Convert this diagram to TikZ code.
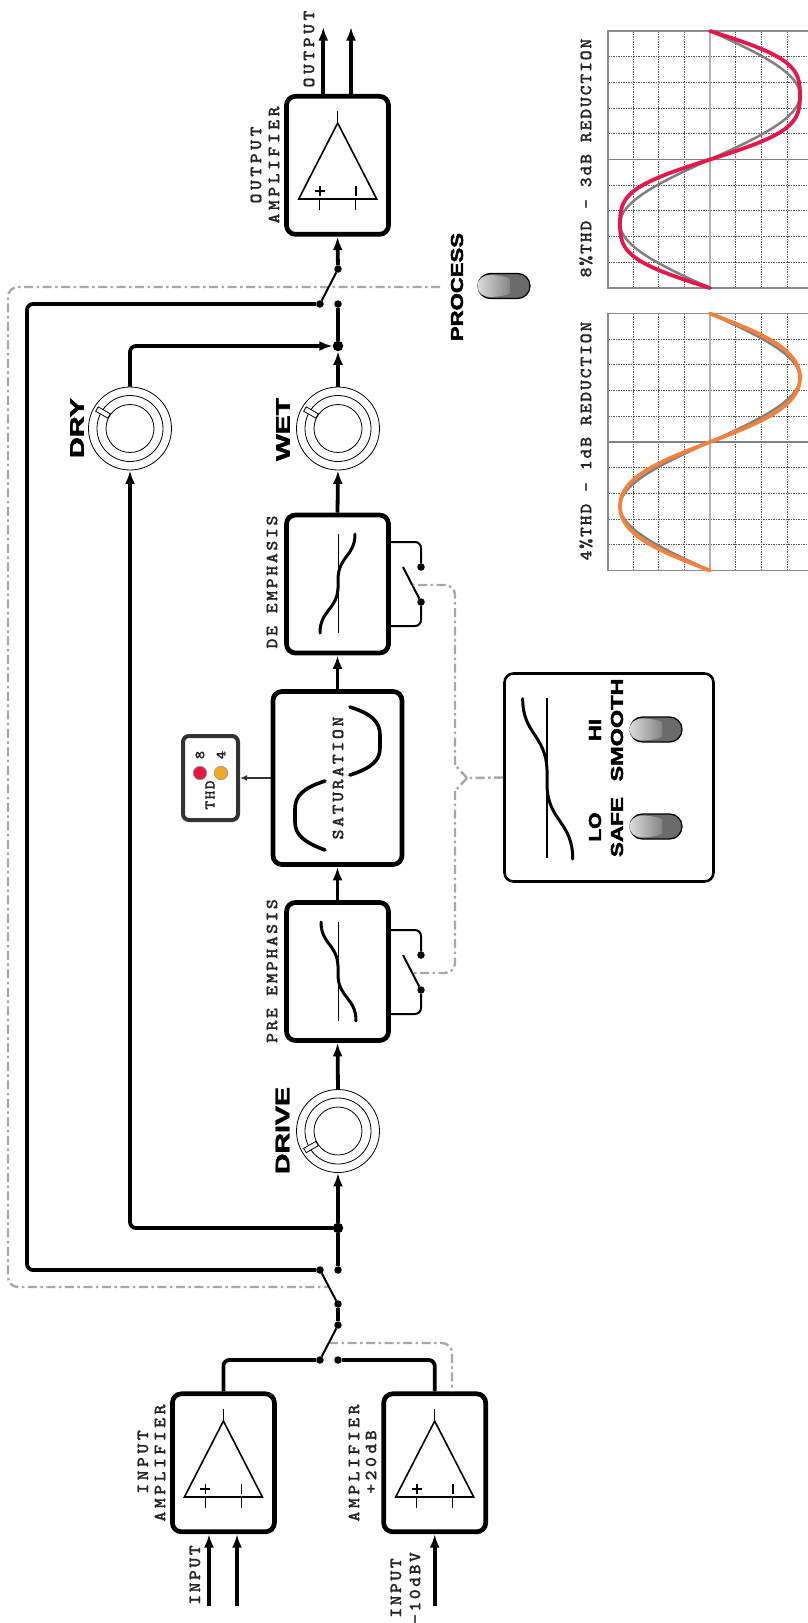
\documentclass[tikz,border=0pt]{standalone}
\usepackage{fontspec}
\usepackage{graphicx}
\usetikzlibrary{arrows.meta,calc}
\newfontfamily\widef{Liberation Sans}[BoldFeatures={FakeBold=2.2}]
\newfontfamily\labf{lmmonolt10-bold.otf}[FakeStretch=1.12,FakeBold=0.9]
\newcommand\lbl[3]{{\fontsize{#1}{#1}\labf\addfontfeature{LetterSpace=#2}#3}}
\newcommand\wide[3]{\resizebox{#1pt}{#2pt}{\widef\bfseries #3}}
\definecolor{dashgray}{HTML}{A8A8A8}
\definecolor{crim}{HTML}{E6174D}
\definecolor{orng}{HTML}{F4823C}
\definecolor{ledred}{HTML}{E8173F}
\definecolor{ledor}{HTML}{F5A623}
\tikzset{
  blk/.style={draw=black,line width=4.7pt,rounded corners=9pt,fill=white,inner sep=0pt},
  sig/.style={draw=black,line width=3.8pt,rounded corners=6pt},
  arw/.style={sig,-{Latex[length=13.5pt,width=10pt]}},
  sw/.style={draw=black,line width=2pt},
  dot/.style={circle,fill=black,inner sep=0pt,minimum size=7.5pt,outer sep=0pt},
  jdot/.style={dot,minimum size=10.5pt},
  ctl/.style={draw=dashgray,line width=2.4pt,dash pattern=on 9pt off 3.5pt on 2.5pt off 3.5pt,rounded corners=10pt},
  ring/.style={circle,draw=black,line width=0.8pt,fill=white,inner sep=0pt},
  lab/.style={rotate=90,inner sep=0pt,text=black!85},
  big/.style={rotate=90,inner sep=0pt},
  ampsym/.pic={
    \draw[line width=1.6pt,line join=miter] (0,0) -- (39,76) -- (-39,76) -- cycle;
    \draw[line width=1.2pt] (0,0) -- (0,-12) (-18,76) -- (-18,87) (18,76) -- (18,87);
    \draw[line width=1.7pt] (-23,68) -- (-13,68) (-18,63) -- (-18,73) (18,63) -- (18,73);
  },
  scurve/.pic={
    \draw[line width=3pt,line cap=round] (17,-49) .. controls (17,-27) and (1,-27) .. (0,-5) -- (0,5) .. controls (-1,27) and (-18,27) .. (-18,50);
  },
  flip/.pic={
    \draw[fill=black!58,line width=1.3pt,rounded corners=12.4pt] (-26,-12.5) rectangle (26,12.5);
    \shade[left color=black!14,middle color=black!20,right color=black!48]
      (-26.5,0) .. controls (-26.5,-7) and (-21,-11) .. (-13,-11) .. controls (-4,-10.5) and (5,-9) .. (6,-7)
      -- (6,7) .. controls (5,9) and (-4,10.5) .. (-13,11) .. controls (-21,11) and (-26.5,7) .. (-26.5,0) -- cycle;
  },
}
% knob: name, x, y, pointer dy sign, pointer angle
\newcommand\knob[5]{%
  \node[ring,minimum size=83pt] (#1) at (#2,#3) {};
  \node[ring,minimum size=66pt] at (#1) {};
  \node[ring,minimum size=48pt] at (#1) {};
  \node[draw=black,line width=0.8pt,fill=white,minimum width=14pt,minimum height=5pt,inner sep=0pt,rotate=#5] at ($(#1)+(-27,#4)$) {};
}
% graph: top y, colour, k
\newcommand\thdgraph[3]{%
  \begin{scope}[yshift=-#1pt]
    \foreach \xx in {633,658.6,684.3,735.7,761.3,787}
      \draw[black!65,line width=1pt,dash pattern=on 1.5pt off 1pt] (\xx,0) -- (\xx,257);
    \foreach \yy in {25.7,51.4,77.1,102.8,154.2,179.9,205.6,231.3}
      \draw[black!65,line width=1pt,dash pattern=on 1.5pt off 1pt] (608,\yy) -- (808,\yy);
    \draw[black!45,line width=1.2pt] (808,0) -- (608,0) -- (608,257) -- (808,257);
    \draw[black!50,line width=1.1pt] (608,128.5) -- (808,128.5);
    \draw[black!30,line width=1.6pt] (710,0) -- (710,257);
    \draw[black!50,line width=2.5pt,line join=round] plot[domain=0:360,samples=100,variable=\t] ({710+90*sin(\t)},{0.71389*\t});
    \draw[#2,line width=3.8pt,line cap=round,line join=round] plot[domain=0:360,samples=100,variable=\t] ({710+90*((1+#3)*sin(\t)-#3*sin(\t)*sin(\t)*sin(\t))},{0.71389*\t});
  \end{scope}
}
\begin{document}
\begin{tikzpicture}[x=1pt,y=-1pt]
\useasboundingbox (0,0) rectangle (808,1623);
% control (dash-dot) lines, beneath everything
\coordinate (procEnd) at (440,287);
\coordinate (ctlCorner) at (8,800);
\coordinate (inSwMid) at (329,1287);
\coordinate (amSwMid) at (329,1343);
\draw[ctl] (procEnd) -| (ctlCorner) |- (inSwMid);

% blocks
\node[blk,minimum width=102pt,minimum height=138pt] (inamp) at (223.4,1462.8) {};
\node[blk,minimum width=102pt,minimum height=138pt] (amp20) at (434.7,1462.8) {};
\node[blk,minimum width=102pt,minimum height=138pt] (outamp) at (337.5,165.3) {};
\node[blk,minimum width=102pt,minimum height=138pt] (pre) at (337.5,971.5) {};
\node[blk,minimum width=102pt,minimum height=138pt] (de) at (337.5,584) {};
\node[blk,minimum width=129pt,minimum height=173pt] (sat) at (337.5,778) {};
\node[blk,draw=black!80,line width=4pt,rounded corners=6pt,minimum width=55pt,minimum height=84pt] (thd) at (210.5,778) {};
\node[blk,line width=2.6pt,rounded corners=9pt,minimum width=209pt,minimum height=208pt] (sel) at (609,777.5) {};

\draw[ctl] (amSwMid) -| (amp20.north -| 452,0);

% op-amp symbols
\pic at (223.4,1421) {ampsym};
\pic at (434.7,1421) {ampsym};
\pic at (337.7,123) {ampsym};
% curves
\pic at (338,583) {scurve};
\pic[xscale=-1] at (338,971) {scurve};
\pic[xscale=-1.43,yscale=1.62] at (547,778) {scurve};
\draw[line width=1pt] (338,534) -- (338,633);
\draw[line width=1pt] (338,922) -- (338,1021);
\draw[line width=1.3pt] (547,698) -- (547,858);
\draw[line width=3.6pt,line cap=round] (350,707) .. controls (372,714) and (380,722) .. (380,735) -- (380,748) .. controls (380,760) and (372,768) .. (350,775);
\draw[line width=3.6pt,line cap=round] (325,781) .. controls (303,788) and (295,796) .. (295,809) -- (295,822) .. controls (295,834) and (303,842) .. (325,850);

% knobs
\knob{dry}{130}{428.5}{-16}{150}
\knob{wet}{338}{428.5}{-16}{150}
\knob{drive}{338}{1131}{16}{210}

% dots
\node[jdot] (jdrv) at (338,1228) {};
\node[jdot] (jmix) at (338,346) {};
\node[dot] (t1) at (338,1270) {};
\node[dot] (t2) at (320,1270) {};
\node[dot] (m1) at (338,1304) {};
\node[dot] (m2) at (338,1325) {};
\node[dot] (t3) at (320,1360) {};
\node[dot] (t4) at (338,1360) {};
\node[dot] (o1) at (338,269) {};
\node[dot] (o2) at (320,304) {};
\node[dot] (o3) at (338,304) {};
\coordinate (bypass) at (27,800);

% input arrows
\coordinate (inA) at (209,1606);
\coordinate (inB) at (237,1606);
\coordinate (inC) at (434.7,1606);
\coordinate (outA) at (323.3,27);
\coordinate (outB) at (351,27);
\draw[arw] (inA) -- (inA |- inamp.south);
\draw[arw] (inB) -- (inB |- inamp.south);
\draw[arw] (inC) -- (amp20.south);
\draw[arw] (outA |- outamp.north) -- (outA);
\draw[arw] (outB |- outamp.north) -- (outB);

% signal lines
\draw[sig] (t3) -| (inamp.north);
\draw[sig] (t4) -| (amp20.north);
\draw[sig] (m1) -- (m2);
\draw[sw] (m2) -- (t3);
\draw[sw] (m1) -- (t2);
\draw[sig] (t1) -- (jdrv);
\draw[arw] (jdrv) -- (drive.south);
\draw[arw] (jdrv) -| (dry.south);
\draw[arw] (drive.north) -- (pre.south);
\draw[arw] (pre.north) -- (sat.south);
\draw[arw] (sat.north) -- (de.south);
\draw[arw] (de.north) -- (wet.south);
\draw[arw] (wet.north) -- (jmix);
\draw[arw] (dry.north) |- (jmix);
\draw[sig] (jmix) -- (o3);
\draw[sw] (o1) -- (o2);
\draw[arw] (o1) -- (outamp.south);
\draw[sig] (t2) -| (bypass) |- (o2);
\draw[draw=black!80,line width=1.8pt,-{Latex[length=7pt,width=6pt]}] (sat.west) -- (thd.east);

% side switches
\node[dot] (deT) at (421,567) {};
\node[dot] (deB) at (421,602) {};
\node[dot] (preT) at (421,955) {};
\node[dot] (preB) at (421,990) {};
\coordinate (deTy) at (0,542);
\coordinate (deBy) at (0,626);
\coordinate (preTy) at (0,930);
\coordinate (preBy) at (0,1014);
\coordinate (deBl) at (403,567);
\coordinate (preBl) at (403,955);
\draw[sw,rounded corners=6pt] (de.east |- deTy) -| (deT);
\draw[sw,rounded corners=6pt] (de.east |- deBy) -| (deB);
\draw[sw] (deB) -- (deBl);
\draw[sw,rounded corners=6pt] (pre.east |- preTy) -| (preT);
\draw[sw,rounded corners=6pt] (pre.east |- preBy) -| (preB);
\draw[sw] (preB) -- (preBl);

% selector control lines
\coordinate (yj) at (467,778);
\coordinate (yu) at (455,765);
\coordinate (yd) at (455,791);
\coordinate (yuc) at (455,585);
\coordinate (ydc) at (455,973);
\coordinate (deG) at (413,585);
\coordinate (preG) at (413,973);
\draw[ctl] (sel.west) -- (yj);
\draw[ctl,rounded corners=0pt] (yj) -- (yu);
\draw[ctl] (yu) -- (yuc) -- (deG);
\draw[ctl,rounded corners=0pt] (yj) -- (yd);
\draw[ctl] (yd) -- (ydc) -- (preG);

% toggles
\pic at (656,729.5) {flip};
\pic at (656,826.5) {flip};
\pic at (504,286) {flip};

% LEDs
\node[circle,fill=ledred,draw=black!40,line width=0.6pt,inner sep=0pt,minimum size=13.5pt] (ledr) at (200,773) {};
\node[circle,fill=ledor,draw=black!40,line width=0.6pt,inner sep=0pt,minimum size=13.5pt] (ledo) at (221,773) {};

% labels
\node[lab] (l1) at (143,1462) {\lbl{17}{20}{INPUT}};
\node[lab] (l2) at (160,1463) {\lbl{17}{20}{AMPLIFIER}};
\node[lab] (l3) at (354,1463) {\lbl{17}{20}{AMPLIFIER}};
\node[lab] (l4) at (371,1462) {\lbl{17}{20}{+20dB}};
\node[lab] (l5) at (195,1575) {\lbl{17}{14}{INPUT}};
\node[lab] (l6) at (396,1588) {\lbl{17}{14}{INPUT}};
\node[lab] (l7) at (415,1588) {\lbl{17}{14}{-10dBV}};
\node[lab] (l8) at (309,49) {\lbl{17}{20}{OUTPUT}};
\node[lab] (l9) at (256,165) {\lbl{17}{20}{OUTPUT}};
\node[lab] (l10) at (274,165) {\lbl{17}{20}{AMPLIFIER}};
\node[lab] (l11) at (272,582) {\lbl{17}{15}{DE EMPHASIS}};
\node[lab] (l12) at (272,971) {\lbl{17}{14}{PRE EMPHASIS}};
\node[lab] (l13) at (338,778) {\lbl{17}{15}{SATURATION}};
\node[lab] (l14) at (210,795) {\lbl{15}{9}{THD}};
\node[lab] (l15) at (200,755) {\lbl{14}{0}{8}};
\node[lab] (l16) at (221,755) {\lbl{14}{0}{4}};
\node[lab] (l17) at (586,158) {\lbl{17}{10}{8\%THD - 3dB REDUCTION}};
\node[lab] (l18) at (586,441) {\lbl{17}{10}{4\%THD - 1dB REDUCTION}};

\node[big] (b1) at (282.5,1130.5) {\wide{87}{13.5}{DRIVE}};
\node[big] (b2) at (283,429.5) {\wide{63}{13.5}{WET}};
\node[big] (b3) at (77,428) {\wide{60}{13.5}{DRY}};
\node[big] (b4) at (457,287) {\wide{108}{12}{PROCESS}};
\node[big] (b5) at (595,730) {\wide{22}{12}{HI}};
\node[big] (b6) at (595,827) {\wide{29}{12}{LO}};
\node[big] (b7) at (617,730) {\wide{103}{12}{SMOOTH}};
\node[big] (b8) at (617,827) {\wide{60}{12}{SAFE}};

% graphs
\thdgraph{31}{crim}{0.42}
\thdgraph{313.5}{orng}{0.18}
\end{tikzpicture}
\end{document}
